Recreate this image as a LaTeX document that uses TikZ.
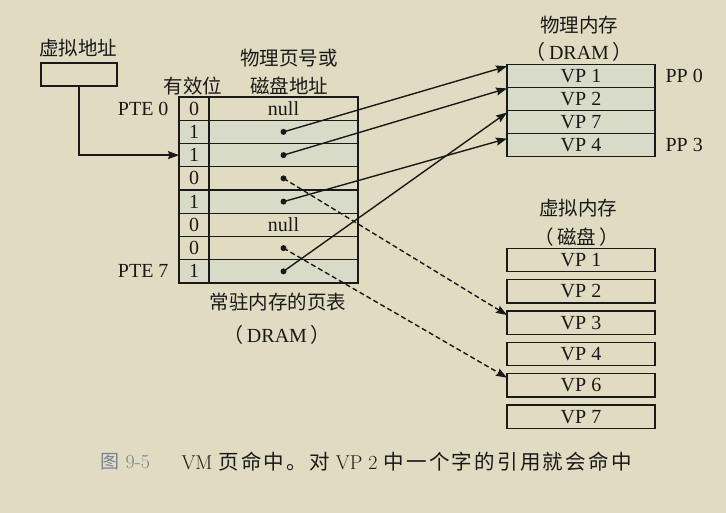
\documentclass[tikz,border=0pt]{standalone}
\usepackage{fontspec}
\newfontfamily\cjk{Noto Sans CJK SC}
\newfontfamily\cjkcap{Noto Sans CJK SC}[LetterSpace=11]
\newfontfamily\tnr{Liberation Serif}
\usetikzlibrary{positioning,arrows.meta,calc}

\definecolor{paper}{RGB}{225,219,193}
\definecolor{ink}{RGB}{25,25,25}
\definecolor{tint}{RGB}{217,219,201}
\definecolor{figgray}{RGB}{120,130,150}

\begin{document}
\begin{tikzpicture}[
    x=1pt, y=-1pt,
    font=\tnr\fontsize{20}{22}\selectfont, text=ink,
    cell/.style={draw=ink, line width=1.4pt, inner sep=0pt, outer sep=0pt,
                 minimum height=23.25pt},
    vcell/.style={cell, minimum width=30pt},
    acell/.style={cell, minimum width=149pt},
    row0/.style={},
    row1/.style={fill=tint},
    mem/.style={cell, minimum width=148pt, minimum height=23.2pt},
    lab/.style={font=\cjk\fontsize{19.5}{22}\selectfont},
    dot/.style={circle, fill=ink, inner sep=0pt, minimum size=6pt},
    ptr/.style={-{Stealth[length=11pt, width=8pt, inset=1.5pt]}, draw=ink, line width=1.4pt},
    swp/.style={ptr, dash pattern=on 5pt off 3pt},
  ]
  % --- paper and frame ---
  \fill[paper] (0,0) rectangle (726,513);
  \useasboundingbox (0,0) rectangle (726,513);

  % --- virtual address ---
  \node[cell, minimum width=76pt, minimum height=23pt] (vaddr) at (79,74.5) {};
  \node[lab] (vaddrlbl) at (78,48) {虚拟地址};

  % --- page table ---
  \foreach \v/\t [count=\i from 0] in {0/null,1/,1/,0/,1/,0/null,0/,1/} {
    \node[vcell, row\v, anchor=north west] (v\i) at (179,97+\i*23.25) {\v};
    \node[acell, row\v, anchor=west] (a\i) at (v\i.east) {\t};
  }
  \foreach \i in {1,2,3,4,6,7}
    \node[dot] (d\i) at (a\i) {};

  \node[lab] (validlbl) at (193,86) {有效位};
  \node[lab] (addrlbl1) at (289,58) {物理页号或};
  \node[lab] (addrlbl2) at (289,86) {磁盘地址};
  \node[left=7pt of v0] (pte0) {PTE 0};
  \node[left=7pt of v7] (pte7) {PTE 7};
  \node[lab] (ptlbl1) at (278,302) {常驻内存的页表};
  \node (ptlbl2) at (277,335) {{\cjk （}\,DRAM\,{\cjk ）}};

  \draw[ptr] (vaddr.south) |- (v2.west);

  % --- physical memory (DRAM) ---
  \foreach \t [count=\i from 0] in {VP 1,VP 2,VP 7,VP 4}
    \node[mem, fill=tint, anchor=north west] (p\i) at (507,64.3+\i*23.1) {\t};
  \node[lab] (pmlbl1) at (579,25) {物理内存};
  \node (pmlbl2) at (579,52) {{\cjk （}\,DRAM\,{\cjk ）}};
  \node[right=7pt of p0] (pp0) {PP 0};
  \node[right=7pt of p3] (pp3) {PP 3};

  % --- virtual memory (disk) ---
  \foreach \t [count=\i from 0] in {1,2,3,4,6,7}
    \node[mem, anchor=north west] (m\t) at (507,248.3+\i*31.35) {VP \t};
  \node[lab] (vmlbl1) at (578,208) {虚拟内存};
  \node[lab] (vmlbl2) at (577,237) {（\,磁盘\,）};

  % --- pointers ---
  \draw[ptr] (d1.center) -- ($(p0.north west)+(0,2)$);
  \draw[ptr] (d2.center) -- ($(p1.north west)+(0,1)$);
  \draw[ptr] (d4.center) -- ($(p3.north west)+(0,5)$);
  \draw[ptr] (d7.center) -- ($(p2.north west)+(0,2)$);
  \draw[swp] (d3.center) -- ($(m3.north west)+(0,4)$);
  \draw[swp] (d6.center) -- ($(m6.north west)+(0,4)$);

  % --- caption ---
  \node[anchor=west, text=figgray, font=\fontsize{20}{22}\selectfont] (fignum)
    at (97,462) {{\cjk\fontsize{19}{22}\selectfont 图} 9-5};
  \node[anchor=west, font=\fontsize{20}{22}\selectfont] (figcap) at (178,462)
    {VM {\cjkcap\fontsize{20.5}{22}\selectfont 页命中。对} VP 2
     {\cjkcap\fontsize{20.5}{22}\selectfont 中一个字的引用就会命中}};
\end{tikzpicture}
\end{document}
